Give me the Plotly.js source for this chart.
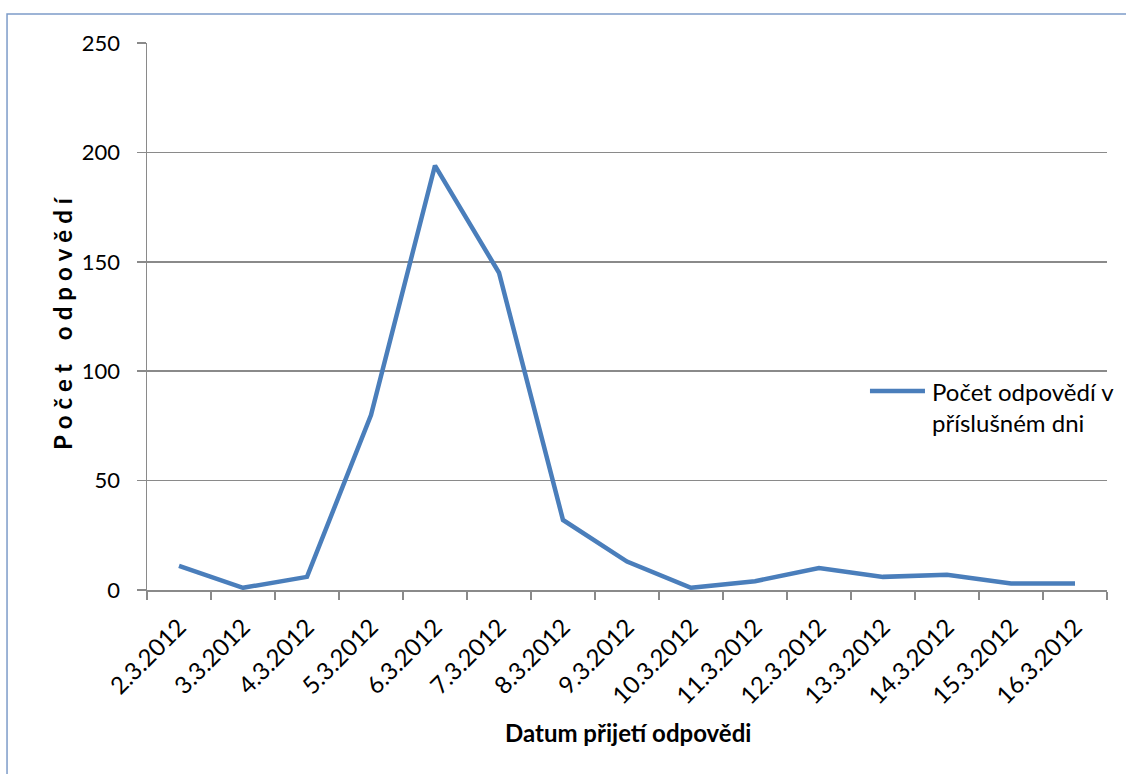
<!DOCTYPE html>
<html>
<head>
<meta charset="utf-8">
<script src="https://cdn.plot.ly/plotly-3.0.1.min.js"></script>
<style>
  html, body { margin: 0; padding: 0; background: #fff; }
  #chart { width: 1126px; height: 774px; }
</style>
</head>
<body>
<div id="chart"></div>
<script>
// Daily number of received responses, 2.–16. 3. 2012
const dates = ["2.3.2012", "3.3.2012", "4.3.2012", "5.3.2012", "6.3.2012",
               "7.3.2012", "8.3.2012", "9.3.2012", "10.3.2012", "11.3.2012",
               "12.3.2012", "13.3.2012", "14.3.2012", "15.3.2012", "16.3.2012"];
const responses = [11, 1, 6, 80, 194, 145, 32, 13, 1, 4, 10, 6, 7, 3, 3];
const yTicks = [0, 50, 100, 150, 200, 250];
const seriesName = "Počet odpovědí v<br>příslušném dni";
const xTitle = "Datum přijetí odpovědi";
const yTitle = "Počet odpovědí";

const FONT = "Lato, 'Open Sans', sans-serif";
const GRID = "#8a8a8a";
const LINE = "#4a7ebb";

// spread the letters of the vertical title apart
const GAP = "\u2005";
const spaced = yTitle.split(" ")
  .map(w => w.split("").join(GAP))
  .join(GAP + GAP + GAP + GAP);

const trace = {
  type: "scatter",
  mode: "lines",
  x: dates,
  y: responses,
  name: seriesName,
  line: { color: LINE, width: 4.5 },
  hoverinfo: "x+y",
  showlegend: false
};

const layout = {
  width: 1126,
  height: 774,
  margin: { l: 147, r: 19, t: 43, b: 184 },
  paper_bgcolor: "#ffffff",
  plot_bgcolor: "#ffffff",
  font: { family: FONT, size: 22, color: "#000" },
  showlegend: false,
  xaxis: {
    type: "category",
    range: [-0.5, dates.length - 0.5],
    tickson: "boundaries",
    ticks: "outside",
    ticklen: 8,
    tickcolor: GRID,
    tickwidth: 1.5,
    tickangle: -45,
    ticklabelstandoff: 12,
    tickfont: { family: FONT, size: 24 },
    showgrid: false,
    showline: true,
    linecolor: GRID,
    linewidth: 1.5,
    zeroline: false,
    fixedrange: true,
    automargin: false
  },
  yaxis: {
    range: [0, 250],
    tickmode: "array",
    tickvals: yTicks,
    ticktext: yTicks.map(String),
    ticks: "outside",
    ticklen: 9,
    tickcolor: GRID,
    tickwidth: 1.5,
    ticklabelstandoff: 12,
    tickfont: { family: FONT, size: 22 },
    showgrid: true,
    gridcolor: GRID,
    gridwidth: 1.5,
    showline: true,
    linecolor: GRID,
    linewidth: 1.5,
    zeroline: false,
    fixedrange: true,
    automargin: false
  },
  shapes: [
    // chart frame
    {
      type: "rect", xref: "paper", yref: "paper",
      x0: -0.1458, x1: 1.2, y0: -0.5, y1: 1.053,
      line: { color: "#7d9cc9", width: 1.5 }, fillcolor: "rgba(0,0,0,0)",
      layer: "below"
    },
    // legend key
    {
      type: "line", xref: "paper", yref: "paper",
      x0: 0.7531, x1: 0.8104, y0: 0.3638, y1: 0.3638,
      line: { color: LINE, width: 4.5 }
    }
  ],
  annotations: [
    // legend text
    {
      xref: "paper", yref: "paper",
      x: 0.8156, y: 0.393,
      xanchor: "left", yanchor: "top",
      align: "left",
      showarrow: false,
      text: seriesName,
      font: { family: FONT, size: 24, color: "#000" }
    },
    // x axis title
    {
      xref: "paper", yref: "paper",
      x: 0.501, y: -0.2614,
      xanchor: "center", yanchor: "middle",
      showarrow: false,
      text: "<b>" + xTitle + "</b>",
      font: { family: FONT, size: 24, color: "#000" }
    },
    // y axis title
    {
      xref: "paper", yref: "paper",
      x: -0.0885, y: 0.488,
      xanchor: "center", yanchor: "middle",
      textangle: -90,
      showarrow: false,
      text: "<b>" + spaced + "</b>",
      font: { family: FONT, size: 24, color: "#000" }
    }
  ]
};

Plotly.newPlot("chart", [trace], layout, { displayModeBar: false, staticPlot: true });
</script>
</body>
</html>
